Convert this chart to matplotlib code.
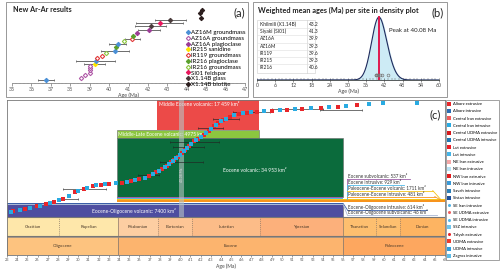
import matplotlib.pyplot as plt
import numpy as np
from matplotlib.lines import Line2D
from matplotlib.patches import Rectangle
from matplotlib.ticker import MultipleLocator

plt.rcParams['font.family'] = ['Lato', 'DejaVu Sans']

# ---- panel (a): new Ar-Ar results ----
a_samples = ['AZ16M groundmass', 'AZ16A groundmass', 'AZ16A plagioclase', 'IR215 sanidine',
             'IR119 groundmass', 'IR216 plagioclase', 'IR216 groundmass', 'SI01 feldspar',
             'X1.14B glass', 'X1.14B biotite']
a_colors = ['#4a8fd6', '#b05aa8', '#9c3d96', '#ffe500', '#e23b3b', '#5aa02c', '#8dc641',
            '#e8175d', '#4a3b3b', '#2b1d1d']
a_hollow = [False, True, False, False, True, False, True, False, False, False]

a_age = [36.75, 38.55, 38.75, 39.0, 39.0, 39.0, 39.0, 39.25, 39.32, 39.4, 39.65, 39.85, 40.3,
         40.35, 40.45, 40.75, 41.2, 41.25, 41.45, 42.05, 42.15, 42.6, 43.15, 44.75, 44.7, 44.8]
a_err = [0.4, 0, 0, 0, 0, 0, 0, 0.55, 1.0, 0, 0, 0, 0.7,
         0, 0.43, 0, 0.4, 0, 0, 0.55, 0.8, 1.2, 0.8, 0, 0, 0]
a_pos = [3, 5.3, 7.7, 10.3, 12.7, 15, 17, 19, 21.7, 25.3, 27, 30, 32.3,
         35.7, 39, 41.7, 43.7, 47.3, 50, 52.7, 56.7, 59.7, 63, 65.3, 69.7, 73]
a_sample = [0, 1, 1, 1, 1, 1, 1, 3, 0, 4, 4, 6, 0,
            5, 0, 6, 4, 5, 2, 2, 8, 7, 8, 9, 9, 9]

# ---- panel (b): weighted mean ages ----
b_sites = ['Khilmili (X1.14B)', 'Siyaki (SI01)', 'AZ16A', 'AZ16M', 'IR119', 'IR215', 'IR216']
b_ages = [43.2, 41.3, 39.9, 39.3, 39.6, 39.3, 40.6]
peak_age = 40.08

# ---- panel (c): compilation ----
red_age = [23.6, 24.8, 25.9, 26.8, 27.6, 28.5, 29.7, 30.6, 31.4, 32.2, 33.0, 34.3, 35.2, 36.0,
           36.9, 37.6, 38.2, 38.7, 39.1, 39.4, 39.8, 40.2, 40.5, 40.9, 41.4, 41.8, 42.3, 42.8,
           43.3, 43.7, 44.2, 44.9, 45.8, 46.6, 47.5, 49.0, 50.5, 52.0, 53.8, 55.5, 57.4]
red_rank = [44, 46.5, 49, 51, 53.5, 56.5, 63, 66.5, 69, 70.5, 71.5, 72.5, 74, 76,
            79.5, 83, 86, 89.5, 93, 95, 98.5, 102, 105, 109, 114, 116.5, 120.5, 124.5,
            129, 132, 135, 138, 141, 142.5, 143.3, 144.3, 145.5, 146.5, 147.5, 148.5, 150]
blue_age = [23.4, 24.3, 25.3, 26.2, 27.2, 28.1, 29.1, 30.0, 30.9, 31.7, 32.6, 33.7, 34.8, 35.6,
            36.5, 37.3, 37.9, 38.5, 38.9, 39.3, 39.6, 40.0, 40.4, 40.7, 41.1, 41.6, 42.0, 42.5,
            43.0, 43.5, 44.0, 44.5, 45.3, 46.2, 47.0, 48.2, 49.8, 51.3, 52.8, 54.6, 56.3, 58.5,
            59.9, 63.3]
blue_rank = [43.3, 45.5, 47.5, 49.5, 52, 55, 59, 64, 67.5, 70, 71, 72.2, 73, 75,
             77.5, 81.5, 84.5, 88, 91, 94.5, 97, 100, 104, 107, 111.5, 115.5, 118, 122,
             126.5, 130.5, 134, 136.5, 140, 142, 143, 144, 144.8, 146, 147, 148, 149, 151,
             152, 152.5]
eb_age = [30.6, 29.2, 40.1, 41.4, 40.8, 43.0, 36.9, 44.5, 47.0, 51.5, 55.8]
eb_rank = [66, 56, 93, 113, 108, 127, 80, 136, 143, 146, 145]
eb_err = [2.1, 0.8, 2.1, 2.4, 1.5, 1.2, 1.0, 1.3, 1.8, 2.5, 2.1]

units = ['Middle Eocene volcanic', 'Middle-Late Eocene volcanic', 'Eocene volcanic',
         'Eocene-Oligocene volcanic']
unit_area = ['17 459', '4975', '34 953', '7400']
unit_start = [37.7, 33.75, 33.75, 23.0]
unit_end = [47.7, 47.7, 56.0, 56.0]

small_units = ['Eocene subvolcanic', 'Eocene intrusive', 'Paleocene-Eocene volcanic',
               'Paleocene-Eocene intrusive', 'Eocene-Oligocene intrusive',
               'Eocene-Oligocene subvolcanic']
small_area = ['537', '929', '1711', '481', '614', '46']
small_start = [33.75, 33.75, 33.75, 33.75, 23.0, 23.0]
small_end = [56.0, 56.0, 66.0, 66.0, 56.0, 56.0]

stages = ['Chattian', 'Rupelian', 'Priabonian', 'Bartonian', 'Lutetian', 'Ypresian',
          'Thanetian', 'Selandian', 'Danian']
stage_start = [23.0, 28.1, 33.9, 37.8, 41.2, 47.8, 56.0, 59.2, 61.6]
stage_end = [28.1, 33.9, 37.8, 41.2, 47.8, 56.0, 59.2, 61.6, 66.0]
epochs = ['Oligocene', 'Eocene', 'Paleocene']
epoch_start = [23.0, 33.9, 56.0]
epoch_end = [33.9, 56.0, 66.0]

c_legend = ['Alborz extrusive', 'Alborz intrusive', 'Central Iran extrusive', 'Central Iran intrusive',
            'Central UDMA extrusive', 'Central UDMA intrusive', 'Lut extrusive', 'Lut intrusive',
            'NE Iran extrusive', 'NE Iran intrusive', 'NW Iran extrusive', 'NW Iran intrusive',
            'Saveh intrusive', 'Sistan intrusive', 'SE Iran intrusive', 'SE UDMA extrusive',
            'SE UDMA intrusive', 'SSZ intrusive', 'Talysh extrusive', 'UDMA extrusive',
            'UDMA intrusive', 'Zagros intrusive']
c_legend_col = ['#e8262a', '#2b6cb3', '#f15a5a', '#29abe2', '#d7191c', '#1f78b4', '#ed1c24',
                '#45b5e8', '#f4a6a6', '#b8e2f4', '#e31a1c', '#3a9ad9', '#2c7fb8', '#1c4f9c',
                '#4fb3e8', '#f06060', '#55b8e8', '#6ec6ee', '#e8262a', '#ef3b2c', '#2e9fe0',
                '#5bbce8']
c_legend_mk = ['s'] * 14 + ['o', 'o', 'o', 's', 'o', 's', 's', 's']

W, H = 500, 273


def box(x0, y0, x1, y1):
    return [x0 / W, 1 - y1 / H, (x1 - x0) / W, (y1 - y0) / H]


fig = plt.figure(figsize=(5, 2.73), dpi=100)

# ---------------- (a) ----------------
axa = fig.add_axes(box(12, 5, 245, 83))
axa.set_facecolor('none')
for i in range(len(a_age)):
    s = a_sample[i]
    if a_err[i] > 0:
        axa.errorbar(a_age[i], a_pos[i], xerr=a_err[i], fmt='none', ecolor='#555555',
                     elinewidth=0.6, capsize=1, capthick=0.5, zorder=2)
    axa.plot(a_age[i], a_pos[i], 'D', ms=2.2, color=a_colors[s],
             mfc='white' if a_hollow[s] else a_colors[s], mew=0.8, zorder=3)
handles = [Line2D([], [], ls='none', marker='D', ms=2.2, color=a_colors[k],
                  mfc='white' if a_hollow[k] else a_colors[k], mew=0.8) for k in range(len(a_samples))]
axa.legend(handles, a_samples, loc='upper left', bbox_to_anchor=(0.735, 0.72), frameon=False,
           fontsize=4.4, handlelength=0.5, handletextpad=0.3, labelspacing=0.08, borderpad=0)
axa.set_xlim(35, 47)
axa.set_ylim(0, 78)
axa.set_yticks([])
for sp in ['left', 'right', 'top']:
    axa.spines[sp].set_visible(False)
axa.spines['bottom'].set_color('#888888')
axa.spines['bottom'].set_linewidth(0.6)
axa.xaxis.set_major_locator(MultipleLocator(1))
axa.xaxis.set_minor_locator(MultipleLocator(0.2))
axa.tick_params(axis='x', which='major', labelsize=3.8, length=2, width=0.4, pad=1, colors='#555555')
axa.tick_params(axis='x', which='minor', length=1, width=0.3, colors='#777777')
axa.set_xlabel('Age (Ma)', fontsize=3.8, labelpad=0.5, color='#444444')

# ---------------- (b) ----------------
axb = fig.add_axes(box(257, 14, 439, 80))
axb.set_facecolor('none')
grid = np.linspace(0, 60, 1201)
bw = 2.2
dens = np.zeros_like(grid)
for a in b_ages:
    dens += np.exp(-0.5 * ((grid - a) / bw) ** 2)
dens /= dens.max()
axb.fill_between(grid, 0, dens, color='#cdebf5', zorder=1)
axb.plot(grid, dens, color='#1f2a5c', lw=0.8, zorder=2)
axb.plot([peak_age, peak_age], [0, 1.0], color='#e0194f', lw=1.4, zorder=3)
axb.plot(b_ages, [0.075] * len(b_ages), 'o', ms=2, mfc='none', mec='#777777', mew=0.5, zorder=4)
axb.text(43.5, 0.78, 'Peak at %.2f Ma' % peak_age, fontsize=4.4, color='#222222', va='center')
axb.set_xlim(0, 60)
axb.set_ylim(0, 1.05)
axb.set_yticks([])
for sp in ['left', 'right', 'top']:
    axb.spines[sp].set_visible(False)
axb.spines['bottom'].set_color('#444444')
axb.spines['bottom'].set_linewidth(0.6)
axb.xaxis.set_major_locator(MultipleLocator(6))
axb.xaxis.set_minor_locator(MultipleLocator(1.2))
axb.tick_params(axis='x', which='major', labelsize=3.8, length=2.2, width=0.4, pad=1,
                direction='inout', colors='#444444')
axb.tick_params(axis='x', which='minor', length=1.2, width=0.3, direction='in', colors='#555555')
axb.set_xlabel('Age (Ma)', fontsize=3.8, labelpad=0.3, color='#444444')

# ---------------- (c) ----------------
axc = fig.add_axes(box(7, 100, 445, 255))
axc.set_xlim(23, 66)
axc.set_ylim(0, 155)

# vertical layout of the bands (rank units)
epoch_y = (0, 18)
stage_y = (19, 37.8)
unit_y = [(125, 155), (117, 125), (58, 117), (38, 51)]
small_y = [(57, 58), (56, 57), (54.6, 56), (52.6, 54.6), (51, 52), (50.3, 51)]
small_col = ['#9e5fa8', '#4fb8e6', '#f5c518', '#f7941d', '#3b5fa8', '#a9b8d6']
unit_col = ['#ec4a48', '#8cc63f', '#0b6b3c', '#4e4ea0']
stage_col = ['#fee7aa', '#fee7aa', '#fdcea2', '#fdc595', '#fcbc88', '#fcb07b',
             '#fdbf6f', '#fdbf6f', '#fdb462']
epoch_col = ['#fdc37f', '#fcb46e', '#fda75f']

for k in range(len(epochs)):
    axc.barh((epoch_y[0] + epoch_y[1]) / 2, epoch_end[k] - epoch_start[k], left=epoch_start[k],
             height=epoch_y[1] - epoch_y[0], color=epoch_col[k], edgecolor='#8a7a6a', lw=0.5, zorder=1)
    axc.text((epoch_start[k] + epoch_end[k]) / 2, 9, epochs[k], fontsize=3.2, ha='center',
             va='center', color='#4a3a2a')
for k in range(len(stages)):
    axc.barh((stage_y[0] + stage_y[1]) / 2, stage_end[k] - stage_start[k], left=stage_start[k],
             height=stage_y[1] - stage_y[0], color=stage_col[k], edgecolor='none', zorder=1)
    axc.text((stage_start[k] + stage_end[k]) / 2, 28.4, stages[k], fontsize=3.2, ha='center',
             va='center', color='#4a3a2a')
    if k > 0:
        ls = '-' if stage_start[k] in epoch_start else (0, (1.5, 1.5))
        axc.plot([stage_start[k]] * 2, stage_y, color='#8a7a6a', lw=0.5, ls=ls, zorder=2)
axc.plot([23, 66], [stage_y[0]] * 2, color='#777777', lw=0.8, zorder=2)
axc.plot([23, 66], [stage_y[1]] * 2, color='#777777', lw=0.8, zorder=2)

for k in range(len(units)):
    y0, y1 = unit_y[k]
    axc.barh((y0 + y1) / 2, unit_end[k] - unit_start[k], left=unit_start[k], height=y1 - y0,
             color=unit_col[k], edgecolor='#6a6a6a' if k > 0 else 'none', lw=0.4, zorder=1)
for k in range(len(small_units)):
    y0, y1 = small_y[k]
    axc.barh((y0 + y1) / 2, small_end[k] - small_start[k], left=small_start[k], height=y1 - y0,
             color=small_col[k], edgecolor='none', zorder=1.5)

axc.text(37.9, 150, '%s: %s km²' % (units[0], unit_area[0]), fontsize=3.6, color='white', va='center')
axc.text(33.9, 121, '%s: %s km²' % (units[1], unit_area[1]), fontsize=3.6, color='white', va='center')
axc.text(47.3, 85, '%s: %s km²' % (units[2], unit_area[2]), fontsize=3.6, color='white',
         va='center', ha='center')
axc.text(35.5, 44.5, '%s: %s km²' % (units[3], unit_area[3]), fontsize=3.6, color='white',
         va='center', ha='center')

# callouts for the thin units
lab_y = [79, 73, 67, 61, 48, 43]
lab_end = [62.6, 62.0, 64.8, 65.0, 64.2, 65.2]
for k in range(len(small_units)):
    ty = lab_y[k]
    axc.text(56.5, ty, '%s: %s km²' % (small_units[k], small_area[k]), fontsize=3.3, color='#333333',
             va='center', zorder=6)
    axc.plot([56.4, lab_end[k]], [ty - 2.6] * 2, color=small_col[k], lw=0.6, zorder=5)
    y_stripe = (small_y[k][0] + small_y[k][1]) / 2
    if k < 2:
        axc.plot([56.4, 56.4], [ty - 2.6, y_stripe], color=small_col[k], lw=0.6, zorder=5)
    elif k < 4:
        axc.plot([lab_end[k], lab_end[k] + 0.8], [ty - 2.6, y_stripe], color=small_col[k], lw=0.6, zorder=5)
    else:
        axc.plot([56.4, 56.0], [ty - 2.6, y_stripe], color=small_col[k], lw=0.6, zorder=5)

# 40 Ma band
axc.axvspan(39.9, 40.4, ymin=38 / 155, ymax=1, color='#b8c4c4', alpha=0.6, lw=0, zorder=3)
axc.text(40.15, 80, '40.08 Ma', rotation=90, fontsize=2.4, color='#dddddd', ha='center',
         va='center', zorder=3)

axc.errorbar(eb_age, eb_rank, xerr=eb_err, fmt='none', ecolor='#222222', elinewidth=0.45,
             capsize=0.8, capthick=0.4, zorder=4)
axc.plot(red_age, red_rank, 's', ms=2.9, color='#e8262a', mew=0, zorder=5)
axc.plot(blue_age, blue_rank, 's', ms=2.9, color='#29abe2', mew=0, zorder=5)

axc.text(65.6, 140, '(c)', fontsize=8, ha='right', va='center', color='#222222')
axc.set_yticks([])
for sp in axc.spines.values():
    sp.set_color('#777777')
    sp.set_linewidth(0.6)
axc.xaxis.set_major_locator(MultipleLocator(1))
axc.xaxis.set_minor_locator(MultipleLocator(0.2))
axc.tick_params(axis='x', which='major', labelsize=2.8, length=1.6, width=0.4, pad=0.8,
                colors='#555555')
axc.tick_params(axis='x', which='minor', length=0.9, width=0.3, colors='#777777')
axc.set_xlabel('Age (Ma)', fontsize=3.6, labelpad=0.6, color='#444444')

hc = [Line2D([], [], ls='none', marker=c_legend_mk[k], ms=2.2, color=c_legend_col[k], mew=0)
      for k in range(len(c_legend))]
leg = fig.legend(hc, c_legend, loc='upper left', bbox_to_anchor=(446 / W, 1 - 100 / H),
                 fontsize=3.0, handlelength=0.6, handletextpad=0.5, labelspacing=0.78,
                 borderpad=0.5, borderaxespad=0, fancybox=False, edgecolor='#777777')
leg.get_frame().set_linewidth(0.6)

# ---------------- frames, titles, table ----------------
ov = fig.add_axes([0, 0, 1, 1])
ov.set_xlim(0, W)
ov.set_ylim(H, 0)
ov.axis('off')
ov.add_patch(Rectangle((6, 2), 242, 95, fill=False, ec='#888888', lw=0.6))
ov.add_patch(Rectangle((253, 2), 194, 95, fill=False, ec='#888888', lw=0.6))
ov.text(13, 10, 'New Ar-Ar results', fontsize=5.2, fontweight='bold', va='center', color='#222222')
ov.text(245, 13, '(a)', fontsize=8, ha='right', va='center', color='#222222')
ov.text(258, 10, 'Weighted mean ages (Ma) per site in density plot', fontsize=5.3,
        fontweight='bold', va='center', color='#222222')
ov.text(444, 13, '(b)', fontsize=8, ha='right', va='center', color='#222222')

ov.add_patch(Rectangle((257, 20), 58, 53, fill=True, fc='white', ec='#cccccc', lw=0.4))
ov.plot([306.5, 306.5], [20, 73], color='#cccccc', lw=0.4)
for i in range(len(b_sites)):
    yy = 24.5 + 7.2 * i
    ov.text(260, yy, b_sites[i], fontsize=3.5, va='center', color='#222222')
    ov.text(308.5, yy, '%.1f' % b_ages[i], fontsize=3.5, va='center', color='#222222')
    if i > 0:
        ov.plot([257, 315], [yy - 3.6] * 2, color='#dddddd', lw=0.4)

fig.savefig('out.png', dpi=100)
